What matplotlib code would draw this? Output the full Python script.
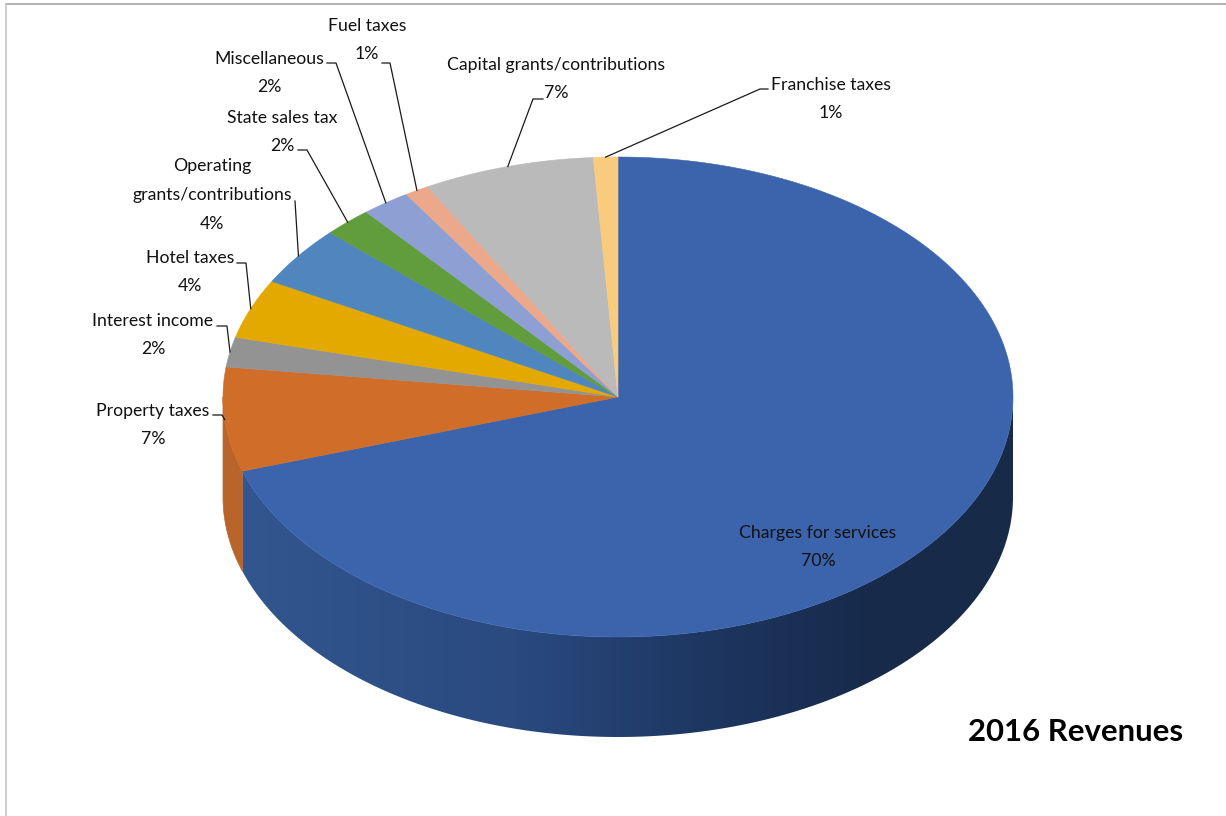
import numpy as np
import matplotlib.pyplot as plt
from matplotlib.colors import LinearSegmentedColormap
from matplotlib.patches import Polygon

# revenue shares, clockwise from twelve o'clock
categories = ['Charges for services', 'Property taxes', 'Interest income', 'Hotel taxes',
              'Operating\ngrants/contributions', 'State sales tax', 'Miscellaneous',
              'Fuel taxes', 'Capital grants/contributions', 'Franchise taxes']
shares = [70, 7, 2, 4, 4, 2, 2, 1, 7, 1]
top_colors = ['#3b64ad', '#d06d28', '#939393', '#e3a900', '#4f86bd',
              '#629d3d', '#8d9fd3', '#eca88a', '#bababa', '#f9cb7d']

# pie geometry in pixels
cx, cy = 618, 397
rx, ry = 395, 240
depth = 100

# label centres and leader elbows, same order as categories
label_xy = [(818, 547), (153, 425), (153, 335), (190, 272), (212, 195),
            (282, 132), (269, 73), (367, 40), (556, 79), (831, 99)]
leaders = [None,
           [(213, 415), (222, 415)],
           [(217, 326), (227, 326)],
           [(237, 263), (246, 263)],
           [(295, 201)],
           [(298, 150), (307, 150)],
           [(327, 63), (336, 63)],
           [(382, 63), (390, 63)],
           [(543, 99), (533, 99)],
           [(768, 89), (760, 89)]]

plt.rcParams['font.family'] = 'Lato'

fig = plt.figure(figsize=(12.26, 8.16), dpi=100)
ax = fig.add_axes([0, 0, 1, 1])
ax.set_xlim(0, 1226)
ax.set_ylim(816, 0)
ax.axis('off')


def rim(t_deg):
    t = np.radians(t_deg)
    return cx + rx * np.sin(t), cy - ry * np.cos(t)


edges = np.concatenate([[0], np.cumsum(shares)]) * 3.6

# outer wall, only the front half of the rim shows
side_cmap = LinearSegmentedColormap.from_list(
    'wall', [(0, '#32568f'), (0.35, '#2a4a80'), (0.62, '#1d355f'), (0.82, '#172a4b'), (1, '#182a48')])
for i in range(len(shares)):
    a = max(edges[i], 90)
    b = min(edges[i + 1], 270)
    if b <= a:
        continue
    t = np.linspace(a, b, 200)
    xs, ys = rim(t)
    pts = np.column_stack([np.r_[xs, xs[::-1]], np.r_[ys, ys[::-1] + depth]])
    if i == 0:
        grad = np.linspace(0, 1, 256).reshape(1, -1)
        im = ax.imshow(grad, cmap=side_cmap, aspect='auto', zorder=1,
                       extent=(xs.min(), xs.max(), cy + ry + depth, cy))
        im.set_clip_path(Polygon(pts, transform=ax.transData))
    else:
        ax.add_patch(Polygon(pts, fc='#b8642b', ec='#b8642b', lw=0.5, zorder=1))

ax.set_xlim(0, 1226)
ax.set_ylim(816, 0)

# top face
for i in range(len(shares)):
    t = np.linspace(edges[i], edges[i + 1], 300)
    xs, ys = rim(t)
    pts = np.column_stack([np.r_[cx, xs], np.r_[cy, ys]])
    ax.add_patch(Polygon(pts, fc=top_colors[i], ec=top_colors[i], lw=0.4, zorder=2))

# labels and leader lines
for i, name in enumerate(categories):
    x, y = label_xy[i]
    ax.text(x, y, f'{name}\n{shares[i]}%', ha='center', va='center', ma='center',
            fontsize=12.7, color='#111111', linespacing=1.98, zorder=4)
    if leaders[i]:
        end = rim((edges[i] + edges[i + 1]) / 2)
        px = [p[0] for p in leaders[i]] + [end[0]]
        py = [p[1] for p in leaders[i]] + [end[1]]
        ax.plot(px, py, color='#1a1a1a', lw=0.9, zorder=3, solid_joinstyle='miter')

ax.text(1076, 732, '2016 Revenues', ha='center', va='center',
        fontsize=22.4, fontweight='bold', color='black', zorder=4)

# chart area frame, top and left only
ax.plot([6, 1226], [4, 4], color='#a3a3a3', lw=1.2, zorder=0)
ax.plot([6, 6], [4, 816], color='#c4c4c4', lw=1.2, zorder=0)

fig.savefig('out.png', dpi=100, facecolor='white')
